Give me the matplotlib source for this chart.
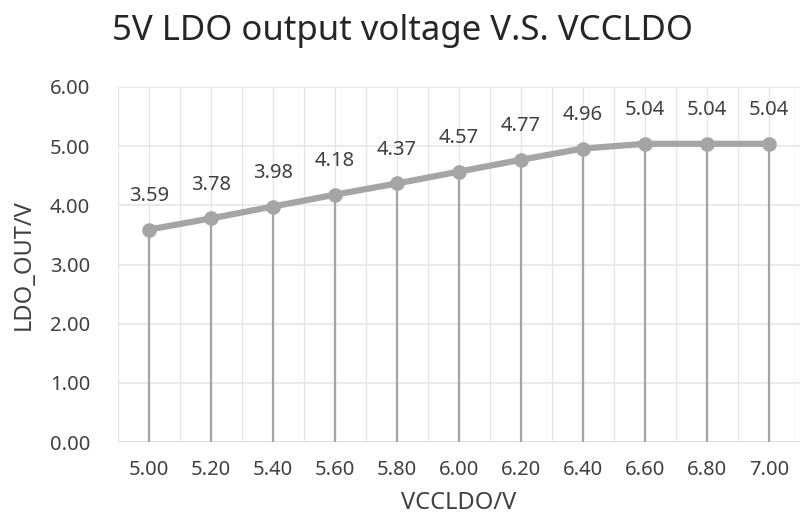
import matplotlib
matplotlib.use("Agg")
import matplotlib.pyplot as plt

vcc = [5.00, 5.20, 5.40, 5.60, 5.80, 6.00, 6.20, 6.40, 6.60, 6.80, 7.00]
ldo_out = [3.59, 3.78, 3.98, 4.18, 4.37, 4.57, 4.77, 4.96, 5.04, 5.04, 5.04]
x_labels = [f"{v:.2f}" for v in vcc]
y_ticks = [0, 1, 2, 3, 4, 5, 6]

plt.rcParams['font.family'] = ['Noto Sans', 'DejaVu Sans']

fig = plt.figure(figsize=(8.01, 5.17), dpi=100)
ax = fig.add_axes([118/801, 1-442/517, 682/801, 355/517])

idx = list(range(len(vcc)))
gray = '#A5A5A5'
grid = '#E6E6E6'
txt = '#404040'

for i in [k*0.5 - 0.5 for k in range(2*len(vcc)+1)]:
    ax.axvline(i, color=grid, lw=1.0, zorder=0)
for t in y_ticks:
    ax.axhline(t, color=grid if t else '#D9D9D9', lw=1.2, zorder=0)

ax.vlines(idx, 0, ldo_out, color=gray, lw=1.6, zorder=2)
ax.plot(idx, ldo_out, color=gray, lw=4.5, marker='o', ms=9.5, zorder=3,
        solid_capstyle='round')

for i, v in zip(idx, ldo_out):
    ax.annotate(f"{v:.2f}", (i, v), xytext=(0, 17), textcoords='offset points',
                ha='center', va='bottom', fontsize=14.5, color=txt)

ax.set_xlim(-0.5, len(vcc) - 0.5)
ax.set_ylim(0, 6)
ax.set_xticks(idx)
ax.set_xticklabels(x_labels)
ax.set_yticks(y_ticks)
ax.set_yticklabels([f"{t:.2f}" for t in y_ticks])
ax.tick_params(length=0, labelsize=14.5, labelcolor=txt)
ax.tick_params(axis='x', pad=13)
ax.tick_params(axis='y', pad=20)
for s in ax.spines.values():
    s.set_visible(False)

ax.set_xlabel("VCCLDO/V", fontsize=17, color=txt, labelpad=8)
ax.set_ylabel("LDO_OUT/V", fontsize=17, color=txt, labelpad=10)
fig.text(402/801, 1 - 31/517, "5V LDO output voltage V.S. VCCLDO",
         fontsize=25, color='#262626', ha='center', va='center')

fig.savefig("out.png", dpi=100, facecolor='white')
